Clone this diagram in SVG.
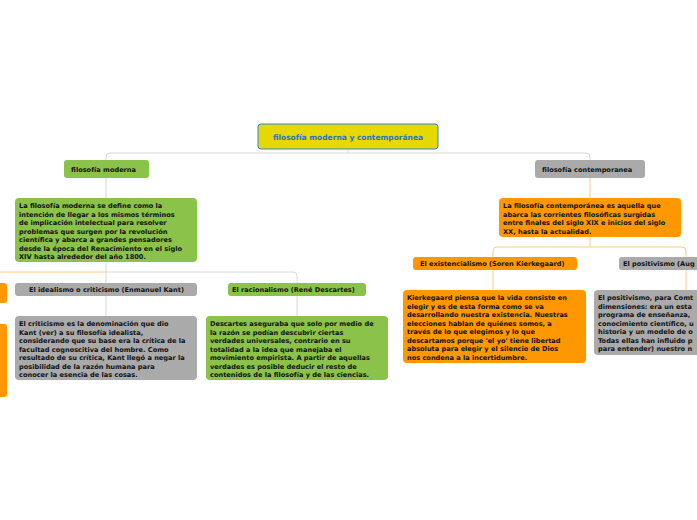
<svg xmlns="http://www.w3.org/2000/svg" width="697" height="520" viewBox="0 0 697 520">
<style>
text{font-family:"DejaVu Sans",Verdana,sans-serif;font-weight:bold;font-size:6.6px;fill:#111}
.g{fill:#8bc34a}.o{fill:#ff9800}.y{fill:#aaaaaa}
.c{fill:none;stroke-width:1}
</style>
<rect width="697" height="520" fill="#fff"/>
<g id="connectors">
<path class="c" stroke="#d8d8d8" d="M348,149V153M106,160V157Q106,153 110,153H586Q590,153 590,157V160"/>
<path class="c" stroke="#d8d8d8" d="M106,178V198"/>
<path class="c" stroke="#ffcc80" d="M590,178V198"/>
<path class="c" stroke="#d8d8d8" d="M106,262V316M106,272H293Q297,272 297,276V283M297,296V316"/>
<path class="c" stroke="#ffcc80" d="M0,272H106"/>
<path class="c" stroke="#ffcc80" d="M590,237V247M493,257V251Q493,247 497,247H682Q686,247 686,251V257M493,270V290M686,270V290"/>
</g>
<g id="title"><rect x="258" y="124" width="180" height="25" rx="3" fill="#e6d800" stroke="#2a86e0"/><text x="348" y="139.5" text-anchor="middle" style="fill:#1f73c9;font-size:7.5px">filosofía moderna y contemporánea</text></g>
<g id="moderna"><rect class="g" x="64" y="160" width="85" height="18" rx="3"/><text x="71" y="171.5">filosofía moderna</text></g>
<g id="contemporanea"><rect class="y" x="535" y="160" width="110" height="18" rx="3"/><text x="542" y="171.5">filosofía contemporanea</text></g>
<g id="moderna-def"><rect class="g" x="15" y="198" width="182" height="64" rx="4"/>
<text x="19" y="208">La filosofía moderna se define como la</text>
<text x="19" y="216.5">intención de llegar a los mismos términos</text>
<text x="19" y="225">de implicación intelectual para resolver</text>
<text x="19" y="233.5">problemas que surgen por la revolución</text>
<text x="19" y="242">científica y abarca a grandes pensadores</text>
<text x="19" y="250.5">desde la época del Renacimiento en el siglo</text>
<text x="19" y="259">XIV hasta alrededor del año 1800.</text></g>
<g id="contemp-def"><rect class="o" x="499" y="198" width="182" height="39" rx="4"/>
<text x="503" y="208">La filosofía contemporánea es aquella que</text>
<text x="503" y="216.5">abarca las corrientes filosóficas surgidas</text>
<text x="503" y="225">entre finales del siglo XIX e inicios del siglo</text>
<text x="503" y="233.5">XX, hasta la actualidad.</text></g>
<g id="left-edge"><rect class="o" x="-5" y="283" width="12" height="20" rx="3"/><rect class="o" x="-5" y="324" width="12" height="73" rx="3"/></g>
<g id="kant"><rect class="y" x="15" y="283" width="182" height="13" rx="3"/><text x="29" y="292">El idealismo o criticismo (Enmanuel Kant)</text></g>
<g id="kant-def"><rect class="y" x="15" y="316" width="182" height="64" rx="4"/>
<text x="19" y="326">El criticismo es la denominación que dio</text>
<text x="19" y="334.5">Kant (ver) a su filosofía idealista,</text>
<text x="19" y="343">considerando que su base era la crítica de la</text>
<text x="19" y="351.5">facultad cognoscitiva del hombre. Como</text>
<text x="19" y="360">resultado de su crítica, Kant llegó a negar la</text>
<text x="19" y="368.5">posibilidad de la razón humana para</text>
<text x="19" y="377">conocer la esencia de las cosas.</text></g>
<g id="descartes"><rect class="g" x="228" y="283" width="138" height="13" rx="3"/><text x="232" y="292">El racionalismo (René Descartes)</text></g>
<g id="descartes-def"><rect class="g" x="206" y="316" width="182" height="64" rx="4"/>
<text x="210" y="326">Descartes aseguraba que solo por medio de</text>
<text x="210" y="334.5">la razón se podían descubrir ciertas</text>
<text x="210" y="343">verdades universales, contrario en su</text>
<text x="210" y="351.5">totalidad a la idea que manejaba el</text>
<text x="210" y="360">movimiento empirista. A partir de aquellas</text>
<text x="210" y="368.5">verdades es posible deducir el resto de</text>
<text x="210" y="377">contenidos de la filosofía y de las ciencias.</text></g>
<g id="exist"><rect class="o" x="413" y="257" width="164" height="13" rx="3"/><text x="420" y="266">El existencialismo (Soren Kierkegaard)</text></g>
<g id="exist-def"><rect class="o" x="403" y="290" width="183" height="73" rx="4"/>
<text x="407" y="300">Kierkegaard piensa que la vida consiste en</text>
<text x="407" y="308.5">elegir y es de esta forma como se va</text>
<text x="407" y="317">desarrollando nuestra existencia. Nuestras</text>
<text x="407" y="325.5">elecciones hablan de quiénes somos, a</text>
<text x="407" y="334">través de lo que elegimos y lo que</text>
<text x="407" y="342.5">descartamos porque 'el yo' tiene libertad</text>
<text x="407" y="351">absoluta para elegir y el silencio de Dios</text>
<text x="407" y="359.5">nos condena a la incertidumbre.</text></g>
<g id="posit"><rect class="y" x="619" y="257" width="90" height="13" rx="3"/><text x="623" y="266">El positivismo (Aug</text></g>
<g id="posit-def"><rect class="y" x="594" y="290" width="115" height="65" rx="4"/>
<text x="598" y="300">El positivismo, para Comt</text>
<text x="598" y="308.5">dimensiones: era un esta</text>
<text x="598" y="317">programa de enseñanza,</text>
<text x="598" y="325.5">conocimiento científico, u</text>
<text x="598" y="334">historia y un modelo de o</text>
<text x="598" y="342.5">Todas ellas han influido p</text>
<text x="598" y="351">para entender) nuestro n</text></g>
</svg>
